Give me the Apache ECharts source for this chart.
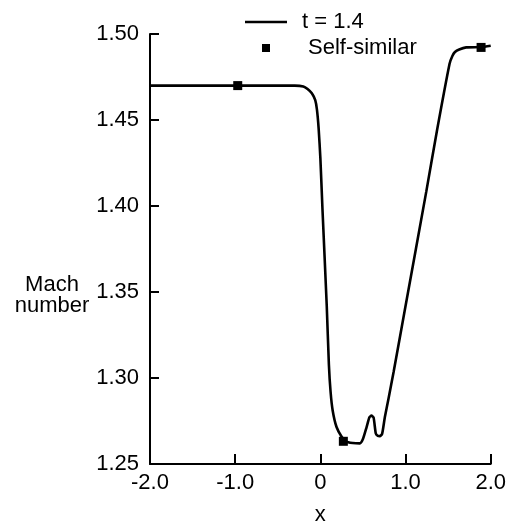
<!DOCTYPE html>
<html>
<head>
<meta charset="utf-8">
<script src="https://cdn.jsdelivr.net/npm/echarts@6/dist/echarts.min.js"></script>
<style>html,body{margin:0;padding:0;background:#fff;}#c{width:509px;height:531px;}</style>
</head>
<body>
<div id="c"></div>
<script>
// Solution at t = 1.4
var lineX = [-2.0, -0.6, -0.4, -0.3, -0.2, -0.15, -0.1, -0.06, -0.04, -0.02, 0.0, 0.025, 0.075, 0.10, 0.12, 0.145, 0.19, 0.25, 0.30, 0.38, 0.464, 0.50, 0.543, 0.575, 0.60, 0.625, 0.651, 0.675, 0.698, 0.725, 0.757, 0.80, 0.86, 1.0, 1.244, 1.372, 1.517, 1.55, 1.58, 1.63, 1.712, 1.887, 2.0];
var lineY = [1.470, 1.470, 1.4700, 1.4700, 1.4695, 1.468, 1.4655, 1.4615, 1.456, 1.445, 1.428, 1.398, 1.342, 1.308, 1.292, 1.281, 1.2715, 1.2658, 1.263, 1.2622, 1.262, 1.2645, 1.2715, 1.2770, 1.2781, 1.2770, 1.2677, 1.2663, 1.2662, 1.2675, 1.2772, 1.288, 1.3035, 1.3419, 1.4085, 1.4446, 1.4827, 1.4872, 1.4895, 1.4910, 1.4922, 1.4924, 1.4932];
// Self-similar solution points
var ssX = [-0.97, 0.27, 1.887];
var ssY = [1.470, 1.2632, 1.4922];
// Tick labels
var xTickLabels = {'-2': '-2.0', '-1': '-1.0', '0': '0', '1': '1.0', '2': '2.0'};
var yTickLabels = ['1.25', '1.30', '1.35', '1.40', '1.45', '1.50'];
var seriesNames = ['t = 1.4', 'Self-similar'];

var FONT = 'Liberation Sans';
function zip(a, b) { return a.map(function (v, i) { return [v, b[i]]; }); }

var chart = echarts.init(document.getElementById('c'), null, {renderer: 'canvas'});
chart.setOption({
  backgroundColor: '#fff',
  animation: false,
  textStyle: {fontFamily: FONT, color: '#000'},
  grid: {left: 150, right: 17, top: 34, bottom: 60, containLabel: false},
  legend: {
    orient: 'vertical',
    left: 245,
    top: 11,
    padding: 0,
    itemWidth: 42,
    itemHeight: 8,
    itemGap: 4,
    textStyle: {fontFamily: FONT, fontSize: 22, color: '#000'},
    data: [
      {name: seriesNames[0], icon: 'path://M0,0L42,0L42,2.6L0,2.6Z', textStyle: {padding: [0, 0, 0, 10]}},
      {name: seriesNames[1], icon: 'path://M0,0L1,0L1,1L0,1Z', textStyle: {padding: [0, 0, 0, 16]}}
    ],
    itemStyle: {color: '#000', opacity: 1}
  },
  xAxis: {
    type: 'value',
    min: -2, max: 2, interval: 1,
    name: 'x',
    nameLocation: 'middle',
    nameGap: 40,
    nameTextStyle: {fontFamily: FONT, fontSize: 22, color: '#000'},
    axisLine: {show: true, onZero: false, lineStyle: {color: '#000', width: 2}},
    axisTick: {show: true, inside: true, length: 10, lineStyle: {color: '#000', width: 2}},
    axisLabel: {
      margin: 8, fontFamily: FONT, fontSize: 22, color: '#000',
      formatter: function (v) { return xTickLabels[String(Math.round(v))]; }
    },
    splitLine: {show: false}
  },
  yAxis: {
    type: 'value',
    min: 1.25, max: 1.50, interval: 0.05,
    axisLine: {show: true, onZero: false, lineStyle: {color: '#000', width: 2}},
    axisTick: {show: true, inside: true, length: 9, lineStyle: {color: '#000', width: 2}},
    axisLabel: {
      margin: 11, fontFamily: FONT, fontSize: 22, color: '#000',
      formatter: function (v) { return yTickLabels[Math.round((v - 1.25) / 0.05)]; }
    },
    splitLine: {show: false}
  },
  graphic: [{
    type: 'text',
    x: 52,
    y: 274,
    style: {
      text: 'Mach\nnumber',
      fontFamily: FONT,
      fontSize: 22,
      lineHeight: 21,
      fill: '#000',
      align: 'center',
      verticalAlign: 'top'
    }
  }],
  series: [
    {
      name: seriesNames[0],
      type: 'line',
      data: zip(lineX, lineY),
      showSymbol: false,
      symbol: 'none',
      smooth: 0.2,
      lineStyle: {color: '#000', width: 2.6},
      itemStyle: {color: '#000'},
      z: 2
    },
    {
      name: seriesNames[1],
      type: 'scatter',
      data: zip(ssX, ssY),
      symbol: 'rect',
      symbolSize: 9,
      itemStyle: {color: '#000', opacity: 1},
      z: 3
    }
  ]
});
</script>
</body>
</html>
